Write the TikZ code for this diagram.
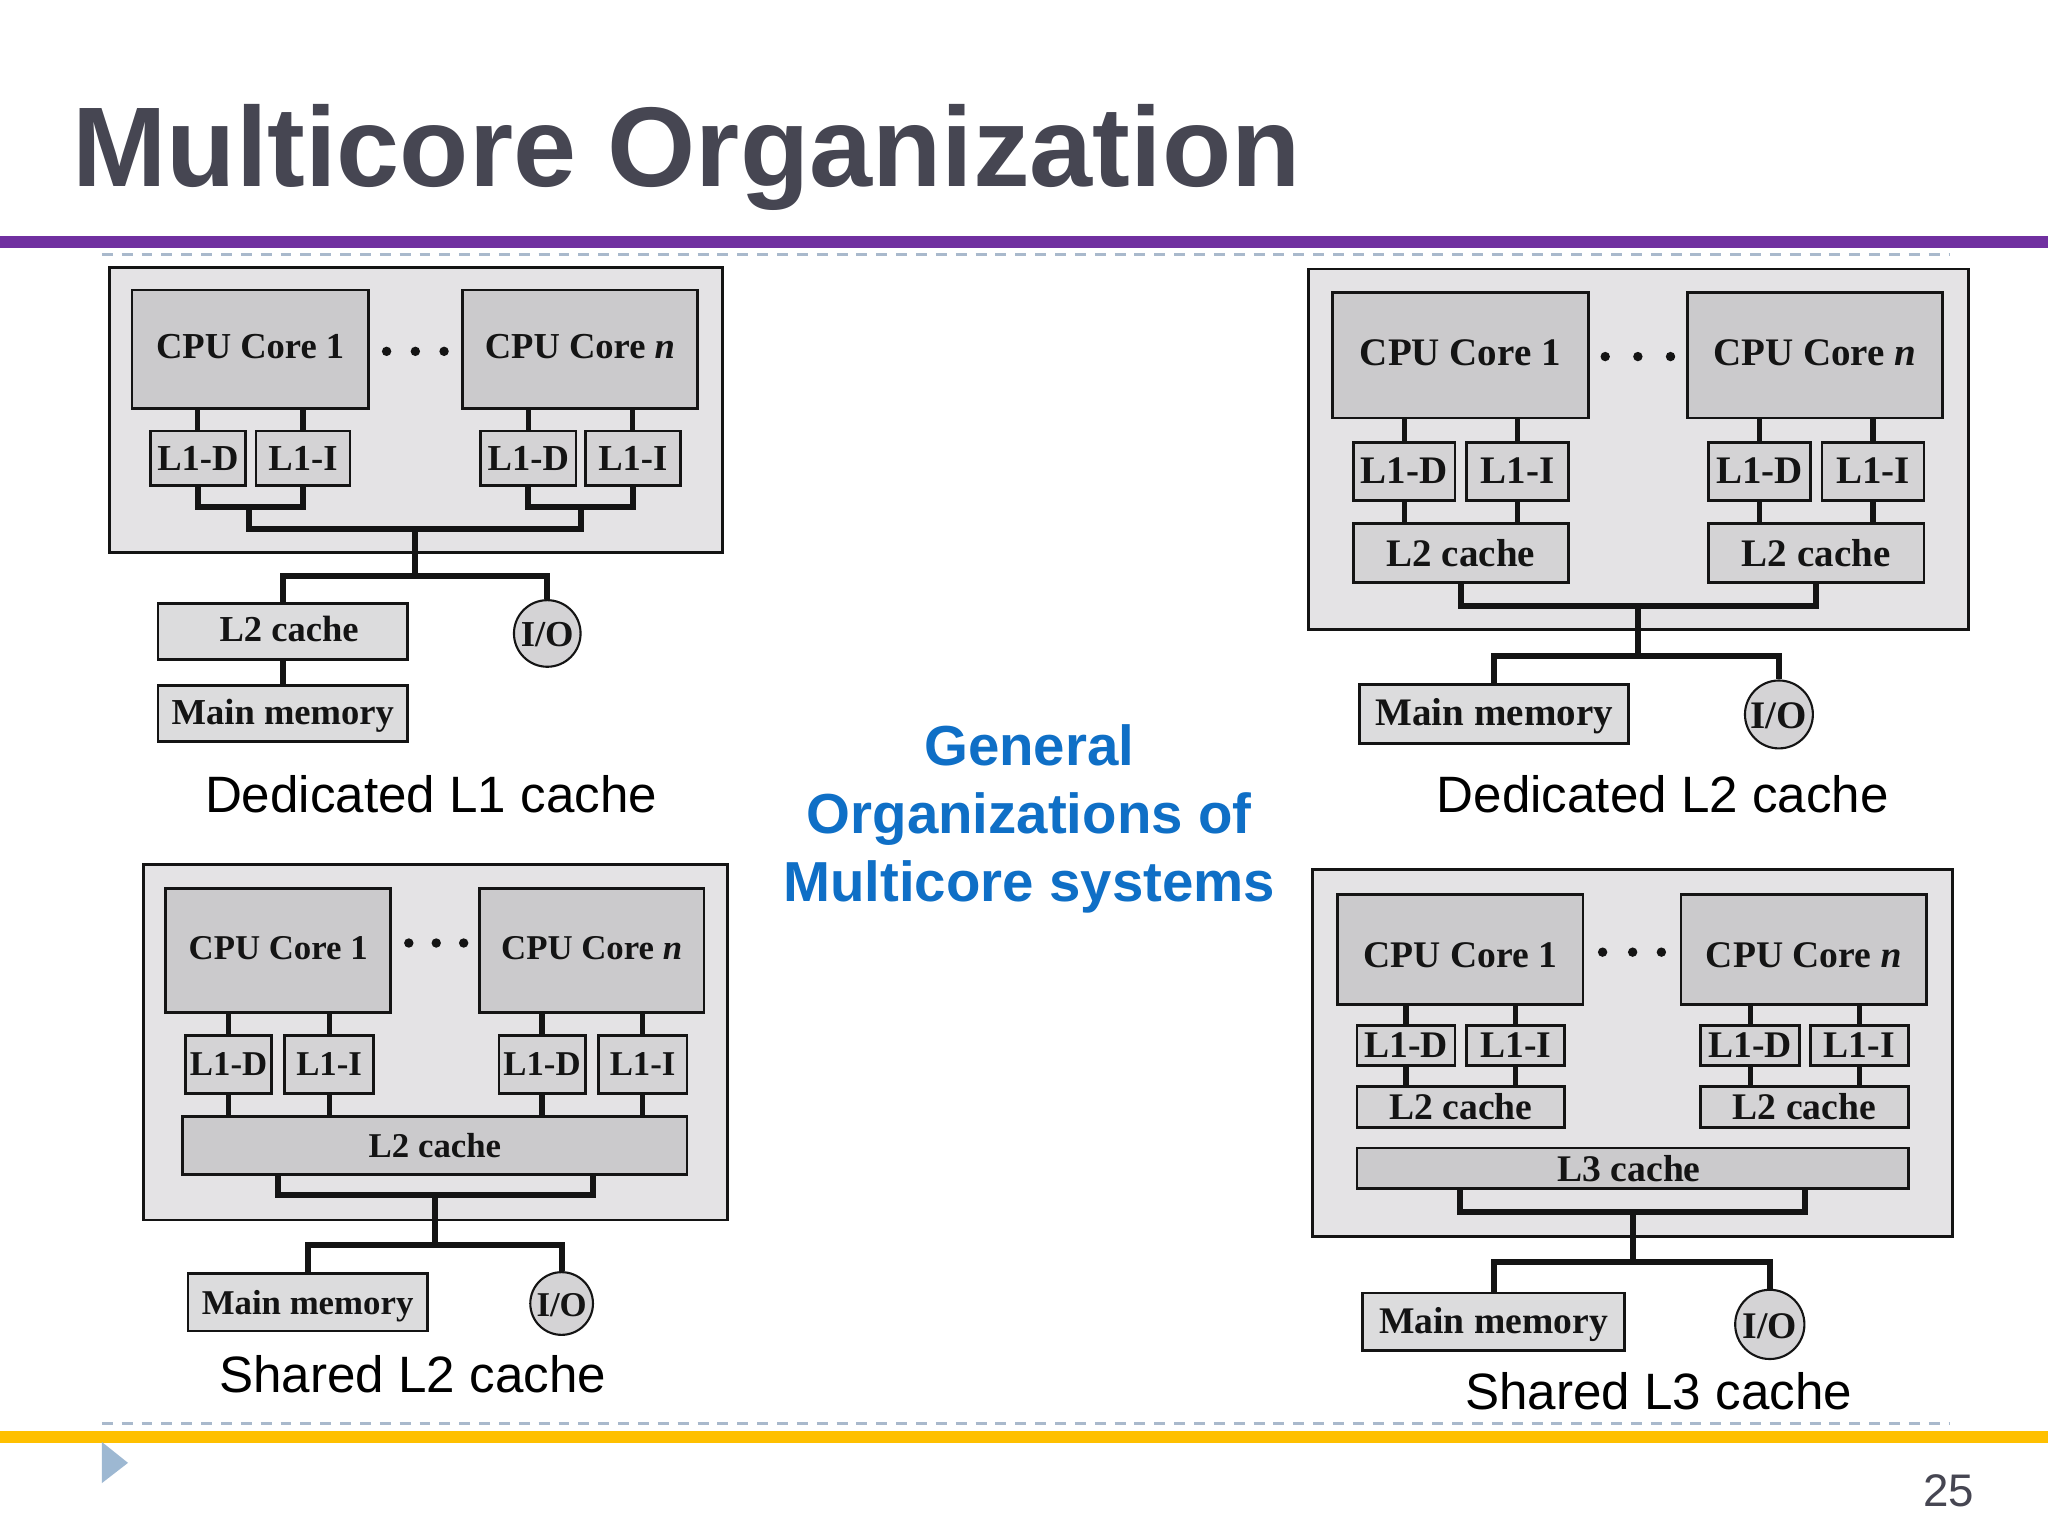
\documentclass[tikz,border=0pt]{standalone}
\usepackage{fontspec}
\setmainfont{Liberation Serif}
\newfontfamily\arialfont{Liberation Sans}
\usetikzlibrary{calc}
\definecolor{titlegray}{HTML}{464652}
\definecolor{barpurple}{HTML}{7030A0}
\definecolor{baryellow}{HTML}{FFC000}
\definecolor{dashblue}{HTML}{A9B9CC}
\definecolor{triblue}{HTML}{9DB8D2}
\definecolor{headblue}{HTML}{0F6FC6}
\definecolor{panelfill}{HTML}{E4E3E5}
\definecolor{corefill}{HTML}{CBCACC}
\definecolor{l1fill}{HTML}{D4D3D5}
\definecolor{memfill}{HTML}{DCDCDD}
\definecolor{inkblack}{HTML}{141414}
\newcommand\pfont{}
\newcommand\sz[1]{\renewcommand\pfont{\fontsize{#1}{#1}\selectfont\bfseries}}
\newcommand\tx[2]{\raisebox{#1}[\height][\depth]{#2}}
\newcommand\bx[7]{\node[#6,minimum width={(#4-#2)*0.0130612cm},minimum height={(#5-#3)*0.0130612cm}] (#1) at ({(#2+#4)/2},{(#3+#5)/2}) {#7};}
\newcommand\ioc[4]{\node[iocircle,minimum size={2*#4*0.0130612cm}] (#1) at (#2,#3) {\tx{-0.4pt}{I/O}};}
\newcommand\threedots[4]{\fill[inkblack] (#1,#4) circle (3.6); \fill[inkblack] (#2,#4) circle (3.6); \fill[inkblack] (#3,#4) circle (3.6);}
\tikzset{
  anybox/.style={draw=inkblack,line width=0.8pt,inner sep=0pt,rectangle,text=inkblack,font=\pfont},
  panelbox/.style={anybox,fill=panelfill},
  corebox/.style={anybox,fill=corefill},
  l1box/.style={anybox,fill=l1fill},
  membox/.style={anybox,fill=memfill},
  iocircle/.style={circle,draw=inkblack,line width=0.6pt,inner sep=0pt,fill=l1fill,text=inkblack,font=\pfont},
  wire/.style={draw=inkblack,line width=1.45pt},
  buswire/.style={draw=inkblack,line width=1.7pt,line join=miter},
  captiontext/.style={font=\arialfont\fontsize{14.55}{16}\selectfont,text=black,inner sep=0pt},
  dashrule/.style={draw=dashblue,line width=0.85pt,dash pattern=on 3.1pt off 2.55pt},
}
\begin{document}
\begin{tikzpicture}[x=0.0130612cm,y=-0.0130612cm]
\useasboundingbox (0,0) rectangle (1568,1176);
\fill[white] (0,0) rectangle (1568,1176);
% slide frame
\node[anchor=base west,inner sep=0pt,text=titlegray,font=\arialfont\bfseries\fontsize{32.25}{36}\selectfont] (title) at (55,143) {Multicore Organization};
\fill[barpurple] (0,181) rectangle (1568,190);
\draw[dashrule] (78,195) -- (1492,195);
\draw[dashrule] (78,1089.5) -- (1492,1089.5);
\fill[baryellow] (0,1095.5) rectangle (1568,1105);
\fill[triblue] (78,1104) -- (78,1135.5) -- (98,1120) -- cycle;
\node[anchor=base east,inner sep=0pt,text=titlegray,font=\arialfont\fontsize{13}{14}\selectfont] (pagenum) at (1512,1153.5) {25};
\node[align=center,inner sep=0pt,text=headblue,font=\arialfont\bfseries\fontsize{16.05}{19.4}\selectfont] (head) at (788,627) {General\\Organizations of\\Multicore systems};

% ---------- Panel A: Dedicated L1
\sz{10.4}
\bx{aouter}{84}{205}{553}{423}{panelbox}{}
\bx{acore1}{101}{222}{282}{313}{corebox}{\tx{0.7pt}{CPU Core 1}}
\bx{acoren}{354}{222}{534}{313}{corebox}{\tx{0.7pt}{CPU Core \textit{n}}}
\bx{ad1}{115}{330}{188}{372}{l1box}{L1-D}
\bx{ai1}{196}{330}{268}{372}{l1box}{L1-I}
\bx{adn}{368}{330}{441}{372}{l1box}{L1-D}
\bx{ain}{448}{330}{521}{372}{l1box}{L1-I}
\bx{al2}{121}{462}{312}{505}{membox}{\hspace{3.6pt}\tx{0.7pt}{L2 cache}\hspace{-3.6pt}}
\bx{amem}{121}{525}{312}{568}{membox}{\tx{-0.7pt}{Main memory}}
\ioc{aio}{419}{485}{25.5}
\threedots{296}{318}{340}{269}
\coordinate (aj1) at (191,388); \coordinate (ajn) at (445,388);
\coordinate (ajm) at (318,405); \coordinate (ajb) at (318,441);
\draw[wire] (ad1.north |- acore1.south) -- (ad1.north);
\draw[wire] (ai1.north |- acore1.south) -- (ai1.north);
\draw[wire] (adn.north |- acoren.south) -- (adn.north);
\draw[wire] (ain.north |- acoren.south) -- (ain.north);
\draw[buswire] (ad1.south) |- (aj1) -| (ai1.south);
\draw[buswire] (adn.south) |- (ajn) -| (ain.south);
\draw[buswire] (aj1) |- (ajm) -| (ajn);
\draw[buswire] (ajm) -- (ajb);
\draw[buswire] (amem.north |- al2.north) |- (ajb) -| (aio.north);
\draw[buswire] (amem.north) -- (amem.north |- al2.south);
\node[captiontext] (acap) at (330,608) {Dedicated L1 cache};

% ---------- Panel B: Dedicated L2
\sz{11.1}
\bx{bouter}{1002}{206}{1507}{482}{panelbox}{}
\bx{bcore1}{1020}{224}{1216}{320}{corebox}{\tx{0.7pt}{CPU Core 1}}
\bx{bcoren}{1292}{224}{1487}{320}{corebox}{\tx{0.7pt}{CPU Core \textit{n}}}
\bx{bd1}{1036}{339}{1114}{383}{l1box}{\tx{0.3pt}{L1-D}}
\bx{bi1}{1123}{339}{1201}{383}{l1box}{\tx{0.3pt}{L1-I}}
\bx{bdn}{1308}{339}{1386}{383}{l1box}{\tx{0.3pt}{L1-D}}
\bx{bin}{1395}{339}{1473}{383}{l1box}{\tx{0.3pt}{L1-I}}
\bx{bl21}{1036}{401}{1201}{446}{l1box}{L2 cache}
\bx{bl2n}{1308}{401}{1473}{446}{l1box}{L2 cache}
\bx{bmem}{1041}{524}{1247}{569}{membox}{\tx{-0.7pt}{Main memory}}
\ioc{bio}{1362}{547}{26}
\threedots{1229}{1254}{1279}{273}
\coordinate (bjm) at (1254,464); \coordinate (bjb) at (1254,502);
\foreach \c/\k in {bd1/bcore1,bi1/bcore1,bdn/bcoren,bin/bcoren}{
  \draw[wire] (\c.north |- \k.south) -- (\c.north);}
\foreach \c/\k in {bd1/bl21,bi1/bl21,bdn/bl2n,bin/bl2n}{
  \draw[wire] (\c.south) -- (\c.south |- \k.north);}
\draw[buswire] (bl21.south) |- (bjm) -| (bl2n.south);
\draw[buswire] (bjm) -- (bjb);
\draw[buswire] (bmem.north) |- (bjb) -| (bio.north);
\node[captiontext] (bcap) at (1273,608) {Dedicated L2 cache};

% ---------- Panel C: Shared L2
\sz{9.9}
\bx{couter}{110}{662}{557}{934}{panelbox}{}
\bx{ccore1}{127}{680}{299}{775}{corebox}{\tx{0.7pt}{CPU Core 1}}
\bx{ccoren}{367}{680}{539}{775}{corebox}{\tx{0.7pt}{CPU Core \textit{n}}}
\bx{cd1}{142}{793}{208}{837}{l1box}{L1-D}
\bx{ci1}{218}{793}{286}{837}{l1box}{L1-I}
\bx{cdn}{382}{793}{448}{837}{l1box}{L1-D}
\bx{cin}{458}{793}{526}{837}{l1box}{L1-I}
\bx{cl2}{140}{855}{526}{899}{corebox}{L2 cache}
\bx{cmem}{144}{975}{327}{1019}{membox}{\tx{-1pt}{Main memory}}
\ioc{cio}{430}{998}{24}
\threedots{313}{334}{355}{722}
\coordinate (cdl) at (213,899); \coordinate (cdr) at (454,899);
\coordinate (cjm) at (333,915); \coordinate (cjb) at (333,953);
\foreach \c/\k in {cd1/ccore1,ci1/ccore1,cdn/ccoren,cin/ccoren}{
  \draw[wire] (\c.north |- \k.south) -- (\c.north);
  \draw[wire] (\c.south) -- (\c.south |- cl2.north);}
\draw[buswire] (cdl) |- (cjm) -| (cdr);
\draw[buswire] (cjm) -- (cjb);
\draw[buswire] (cmem.north) |- (cjb) -| (cio.north);
\node[captiontext] (ccap) at (316,1052) {Shared L2 cache};

% ---------- Panel D: Shared L3
\sz{10.7}
\bx{douter}{1005}{666}{1495}{947}{panelbox}{}
\bx{dcore1}{1024}{685}{1212}{769}{corebox}{\tx{-1.5pt}{CPU Core 1}}
\bx{dcoren}{1287}{685}{1475}{769}{corebox}{\tx{-1.5pt}{CPU Core \textit{n}}}
\bx{dd1}{1039}{785}{1114}{816}{l1box}{L1-D}
\bx{di1}{1123}{785}{1198}{816}{l1box}{L1-I}
\bx{ddn}{1302}{785}{1378}{816}{l1box}{L1-D}
\bx{din}{1386}{785}{1461}{816}{l1box}{L1-I}
\bx{dl21}{1039}{832}{1198}{863}{l1box}{L2 cache}
\bx{dl2n}{1302}{832}{1461}{863}{l1box}{L2 cache}
\bx{dl3}{1039}{879}{1461}{910}{corebox}{\hspace{-2pt}L3 cache\hspace{2pt}}
\bx{dmem}{1043}{990}{1244}{1034}{membox}{\tx{-0.7pt}{Main memory}}
\ioc{dio}{1355}{1014}{26.5}
\threedots{1227}{1250}{1272}{729}
\coordinate (ddl) at (1118,910); \coordinate (ddr) at (1382,910);
\coordinate (djm) at (1250,928); \coordinate (djb) at (1250,966);
\foreach \c/\k in {dd1/dcore1,di1/dcore1,ddn/dcoren,din/dcoren}{
  \draw[wire] (\c.north |- \k.south) -- (\c.north);}
\foreach \c/\k in {dd1/dl21,di1/dl21,ddn/dl2n,din/dl2n}{
  \draw[wire] (\c.south) -- (\c.south |- \k.north);}
\draw[buswire] (ddl) |- (djm) -| (ddr);
\draw[buswire] (djm) -- (djb);
\draw[buswire] (dmem.north) |- (djb) -| (dio.north);
\node[captiontext] (dcap) at (1270,1065) {Shared L3 cache};
\end{tikzpicture}
\end{document}
